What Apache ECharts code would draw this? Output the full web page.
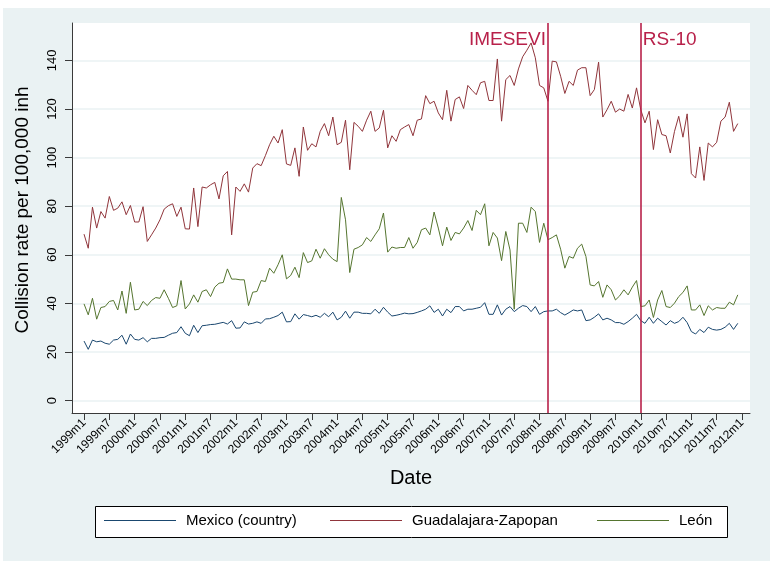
<!DOCTYPE html>
<html>
<head>
<meta charset="utf-8">
<script src="https://cdn.jsdelivr.net/npm/echarts@6/dist/echarts.min.js"></script>
<style>
html,body{margin:0;padding:0;background:#fff;}
#chart{width:774px;height:566px;}
</style>
</head>
<body>
<div id="chart"></div>
<script>
// Month index 0 = 1999m1 ... 155 = 2011m12
const tickLabels = ['1999m1','1999m7','2000m1','2000m7','2001m1','2001m7','2002m1','2002m7','2003m1','2003m7','2004m1','2004m7','2005m1','2005m7','2006m1','2006m7','2007m1','2007m7','2008m1','2008m7','2009m1','2009m7','2010m1','2010m7','2011m1','2011m7','2012m1'];
const yTicks = [0,20,40,60,80,100,120,140];
const seriesNames = ['Mexico (country)','Guadalajara-Zapopan','León'];
const eventLabels = ['IMESEVI','RS-10'];
const eventMonths = [110,132]; // 2008m3, 2010m1

const mexico = [
24.5,21.1,24.9,24.2,24.5,23.6,23.2,24.9,25.2,26.9,
23.2,27.4,25.2,24.9,25.9,24.2,25.6,25.6,25.9,26,
26.9,27.7,28,30.4,27.7,26.7,31,28,30.8,31,
31.3,31.4,31.8,32.2,31.5,32.9,29.8,29.9,32.4,31.5,
31.8,32.4,31.8,33.6,33.7,34.3,35,36.4,32.4,32.5,
35.7,33.5,35.4,35,34.5,35.1,34.3,35.9,34.5,36.4,
33.2,34.3,36.8,33.9,36.4,36.4,35.9,35.9,35.7,37.6,
35.9,38.4,36.4,34.8,35.1,35.5,36,35.7,35.8,36.3,
36.9,37.6,39,36.3,37.6,34.8,37.6,36.2,38.7,38.7,
36.9,37.6,37.6,38,38.4,40.3,35.5,35.5,39.4,35.2,
37.6,38.7,36.6,38,39.1,38.7,36.6,38.7,35.5,36.6,
36.9,36.9,37.6,36.2,35.2,36.2,37.3,36.9,37.3,32.9,
33.2,34.3,35.7,33.2,33.9,33.2,32.1,32.1,31.4,32.5,
33.9,35.5,32.9,31.8,34.3,31.8,33.9,32.5,31.1,32.9,
31.8,32.5,34.3,32.1,28.4,27.4,29.3,28,30.2,29.3,
29,29.3,30.2,31.8,29.3,31.8];

const guadalajara = [
68.5,62.7,79.6,71,77.8,75.1,84,78.3,79.2,81.8,
76.5,80.3,73.5,73.5,79.8,65.5,68.2,71,74.4,78.8,
80.2,81,75.8,79.6,70.7,70.6,87.5,71.6,87.9,87.5,
88.8,89.8,83,92.5,94.3,68.2,87.9,86.1,89.2,85.8,
95.7,97.5,96.7,100.8,105.3,108.8,106,111.5,97.4,96.8,
104,92.3,112.6,103,105.7,104.4,110.8,114,109,116.7,
105.3,106.3,115.4,95,114.5,112.9,110.8,115.4,119.1,110.8,
112.2,119.5,104,109,106.7,111.5,112.6,113.6,109,115.4,
115.9,125.5,122.2,123.2,118.4,115.6,127.7,115,123.9,125,
120.2,129.7,127.7,125.9,130.8,131.4,123.5,123.5,140.6,115,
132.1,133.8,129.7,136.5,141.5,144.2,147.2,141.1,129.7,128.7,
123.2,139.7,139.4,133.5,126.4,131.4,129.7,136,137,137,
125.5,128,139.3,116.7,119.7,123.2,118.7,120,119.1,126,
120.4,128.7,119.7,114.3,119.1,103.3,115.6,109.5,109,101.9,
110.8,117,108.4,118,93.4,91.6,104.4,90.6,106,104.4,
106.3,115,116.7,122.8,110.8,114];

const leon = [
39.8,35.3,42.1,33.5,38.3,38.7,40.8,41.2,37.3,45.1,
35.9,48.7,37.3,37.6,40.8,39.1,41.2,42.4,42.1,45.6,
42.1,38.3,39,49.4,37.7,39.8,43.5,40.5,44.9,45.6,
42.8,46.7,48.3,48.6,54.2,50,50,49.7,49.7,39.1,
44.6,44.9,49.4,49,54.5,52.4,55.9,60,50.1,51.5,
54.9,50.6,60.9,56.8,57.5,62.3,58.6,62.5,60,58.2,
57.2,83.6,74.4,52.7,62.3,63,64.1,67.1,65.5,68.2,
70.7,77.2,61.1,63.2,62.7,63,63,67.1,62.7,65.1,
70.3,71,68.2,77.6,71,63.7,71.4,65.9,69.2,68.6,
71,74.1,70,78.3,76.5,81,63.7,69.2,66.9,57.6,
69.6,62,37.6,73,73,69.2,79.6,77.8,65.1,73,
66.2,67.1,68.2,62.3,54.5,59.3,58.6,62.7,64.4,59.3,
47.6,47.2,49,42.5,47.6,45.6,41.4,43.1,45.6,43.5,
46.7,49.4,38.7,39,41.4,34.2,41.4,45.3,38.7,38.3,
40.1,42.8,44.5,47.2,37.3,37.3,39.4,35,39,37.3,
38.3,38,38,40.5,39.4,43.5];

const colors = ['#1A476F','#90353B','#55752F'];
const eventColor = '#B8214A';
const FONT = '"Liberation Sans", Arial, sans-serif';

const toXY = arr => arr.map((v, i) => [i, v]);
const tickValues = tickLabels.map((_, k) => k * 6);

const chart = echarts.init(document.getElementById('chart'));

const baseSeries = (name, data, color, extra) => Object.assign({
  name: name,
  type: 'line',
  data: toXY(data),
  showSymbol: false,
  symbol: 'none',
  lineStyle: {color: color, width: 1},
  itemStyle: {color: color},
  silent: true,
  animation: false
}, extra || {});

const option = {
  backgroundColor: '#ffffff',
  animation: false,
  textStyle: {fontFamily: FONT},
  graphic: [
    {type: 'rect', z: -100, silent: true, shape: {x: 3, y: 8, width: 767, height: 553}, style: {fill: '#EAF2F3'}},
    {type: 'rect', z: 10, silent: true, shape: {x: 95.5, y: 506.5, width: 632, height: 31}, style: {fill: '#ffffff', stroke: '#000', lineWidth: 1}}
  ],
  grid: {left: 72, right: 24, top: 23, bottom: 153, show: true, backgroundColor: '#ffffff', borderWidth: 0, containLabel: false},
  xAxis: {
    type: 'value', min: -2.85, max: 157.9,
    name: 'Date', nameLocation: 'middle', nameGap: 55,
    nameTextStyle: {fontSize: 20, color: '#000', fontFamily: FONT},
    axisLine: {show: true, onZero: false, lineStyle: {color: '#3a3a3a', width: 1}},
    axisTick: {show: true, customValues: tickValues, length: 7, lineStyle: {color: '#3a3a3a'}},
    axisLabel: {customValues: tickValues, rotate: 45, margin: 8, fontSize: 12, color: '#000', fontFamily: FONT,
      formatter: v => tickLabels[Math.round(v / 6)]},
    splitLine: {show: false}
  },
  yAxis: {
    type: 'value', min: -5.11, max: 155.4,
    name: 'Collision rate per 100,000 inh', nameLocation: 'middle', nameGap: 40,
    nameTextStyle: {fontSize: 19, color: '#000', fontFamily: FONT, padding: [0, 0, 0, 16]},
    axisLine: {show: true, onZero: false, lineStyle: {color: '#3a3a3a', width: 1}},
    axisTick: {show: true, customValues: yTicks, length: 7, lineStyle: {color: '#3a3a3a'}},
    axisLabel: {customValues: yTicks, rotate: 90, margin: 13, fontSize: 13, color: '#000', fontFamily: FONT},
    splitLine: {show: true, lineStyle: {color: '#EAF2F3', width: 1.5}}
  },
  legend: seriesNames.map((n, k) => ({
    data: [n],
    left: [104, 330, 597][k], top: 513,
    padding: 0, icon: 'rect', itemWidth: 72, itemHeight: 1, z: 20,
    textStyle: {fontSize: 15, color: '#000', fontFamily: FONT, padding: [0, 0, 0, 5]}
  })),
  series: [
    baseSeries(seriesNames[0], mexico, colors[0]),
    baseSeries(seriesNames[1], guadalajara, colors[1]),
    baseSeries(seriesNames[2], leon, colors[2], {
      markLine: {
        silent: true, symbol: 'none', animation: false,
        lineStyle: {color: eventColor, width: 1.6, type: 'solid'},
        label: {show: false},
        data: eventMonths.map(m => ({xAxis: m}))
      },
      markPoint: {
        silent: true, animation: false, symbolSize: 0,
        itemStyle: {color: 'rgba(0,0,0,0)'},
        data: eventMonths.map((m, k) => ({
          coord: [m, 148.5],
          label: {show: true, formatter: eventLabels[k], position: k === 0 ? 'left' : 'right', distance: 2,
            fontSize: 19, color: eventColor, fontFamily: FONT}
        }))
      }
    })
  ]
};
chart.setOption(option);
</script>
</body>
</html>
